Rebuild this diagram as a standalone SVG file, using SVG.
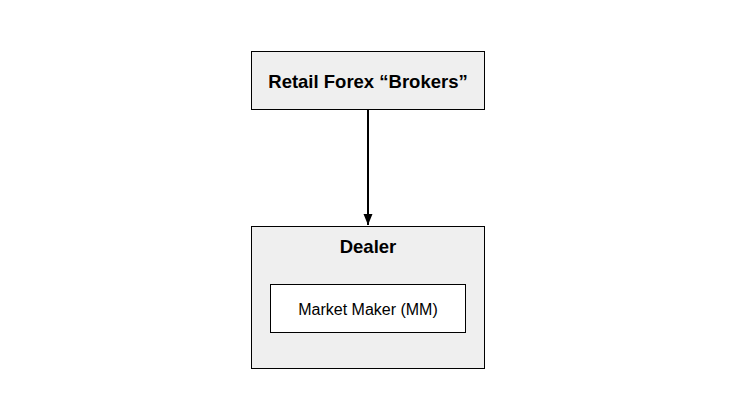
<svg xmlns="http://www.w3.org/2000/svg" width="736" height="420" viewBox="0 0 736 420">
<defs>
<style>
.box{fill:#efefef;stroke:#000;stroke-width:1}
.inner{fill:#fff;stroke:#000;stroke-width:1}
.title{font-family:"Liberation Sans",Arial,sans-serif;font-weight:bold;font-size:18.5px;fill:#000;text-anchor:middle}
.label{font-family:"Liberation Sans",Arial,sans-serif;font-size:16px;fill:#000;text-anchor:middle}
.conn{stroke:#000;stroke-width:2;fill:none}
</style>
<marker id="arrow" markerWidth="12" markerHeight="10" refX="11" refY="4.5" orient="auto" markerUnits="userSpaceOnUse">
<path d="M0,0 L11,4.5 L0,9 Z" fill="#000"/>
</marker>
</defs>
<rect width="736" height="420" fill="#fff"/>
<g id="brokers">
<rect class="box" x="251.5" y="51.5" width="233" height="58"/>
<text class="title" x="368" y="88">Retail Forex “Brokers”</text>
</g>
<g id="dealer">
<rect class="box" x="251.5" y="226.5" width="233" height="142"/>
<text class="title" x="368" y="252.5">Dealer</text>
<g id="mm">
<rect class="inner" x="270.5" y="284.5" width="195" height="48"/>
<text class="label" x="368" y="315">Market Maker (MM)</text>
</g>
</g>
<g id="connectors">
<line class="conn" x1="368" y1="110" x2="368" y2="225" marker-end="url(#arrow)"/>
</g>
</svg>
